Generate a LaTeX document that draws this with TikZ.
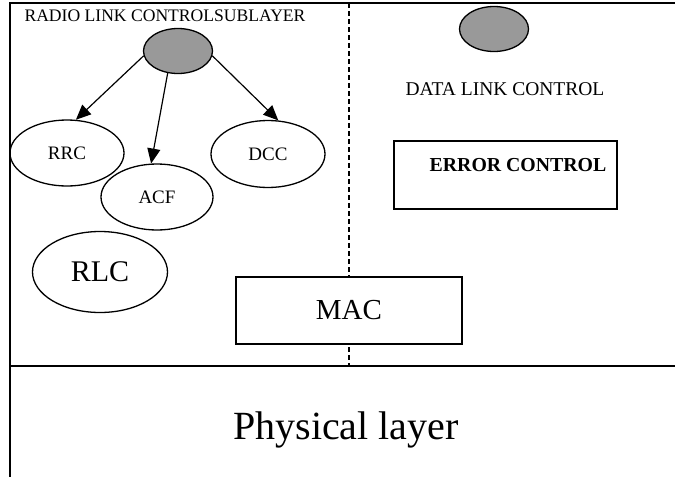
\documentclass[tikz,border=0pt]{standalone}
\usepackage{fontspec}
\setmainfont{Liberation Serif}
\usetikzlibrary{shapes.geometric,arrows.meta}
\definecolor{ovalgray}{RGB}{153,153,153}
\begin{document}
\begin{tikzpicture}[x=1pt,y=-1pt,
  oval/.style={draw,ellipse,line width=1.3pt,inner sep=0pt},
  blob/.style={oval,fill=ovalgray,minimum width=69pt,minimum height=45pt},
  unit/.style={oval,minimum width=114pt,minimum height=66pt,font=\fontsize{19}{22}\selectfont},
  layerbox/.style={draw,line width=1.3pt,fill=white,inner sep=0pt},
  link/.style={-{Triangle[length=15pt,width=13pt]},line width=1.2pt}]
\useasboundingbox (0,0) rectangle (675,477);
% frame and layer borders
\draw[line width=1.7pt] (675,3) -- (10,3) -- (10,477);
\draw[line width=1.3pt] (10,366) -- (675,366);
\draw[line width=1.4pt,dash pattern=on 5pt off 3pt] (349,3) -- (349,366);
% radio link control side
\node[font=\fontsize{17.6}{20}\selectfont] (rlcsub) at (165,16) {RADIO LINK CONTROLSUBLAYER};
\node[blob] (rlchead) at (178,51) {};
\node[unit] (rrc) at (67,153) {RRC};
\node[unit,minimum width=112pt] (acf) at (157,197) {ACF};
\node[unit,minimum height=67pt] (dcc) at (268,154) {DCC};
\node[oval,minimum width=135pt,minimum height=81pt,font=\fontsize{30}{34}\selectfont] (rlc) at (100,272) {RLC};
\draw[link] (rlchead.188) -- (rrc.75);
\draw[link] (rlchead.245) -- (acf.100);
\draw[link] (rlchead.-8) -- (dcc.73);
% data link control side
\node[blob] (dlchead) at (494,29) {};
\node[font=\fontsize{19.5}{23}\selectfont] (dlc) at (505,89) {DATA LINK CONTROL};
\node[layerbox,minimum width=223pt,minimum height=68pt] (err) at (505.5,175) {};
\node[font=\fontsize{19.8}{23}\selectfont\bfseries] (errtxt) at (518,165) {ERROR CONTROL};
% mac and physical layer
\node[layerbox,minimum width=226pt,minimum height=67pt,font=\fontsize{29}{33}\selectfont] (mac) at (349,310.5) {MAC};
\node[font=\fontsize{40}{46}\selectfont] (phy) at (346,430) {Physical layer};
\end{tikzpicture}
\end{document}
